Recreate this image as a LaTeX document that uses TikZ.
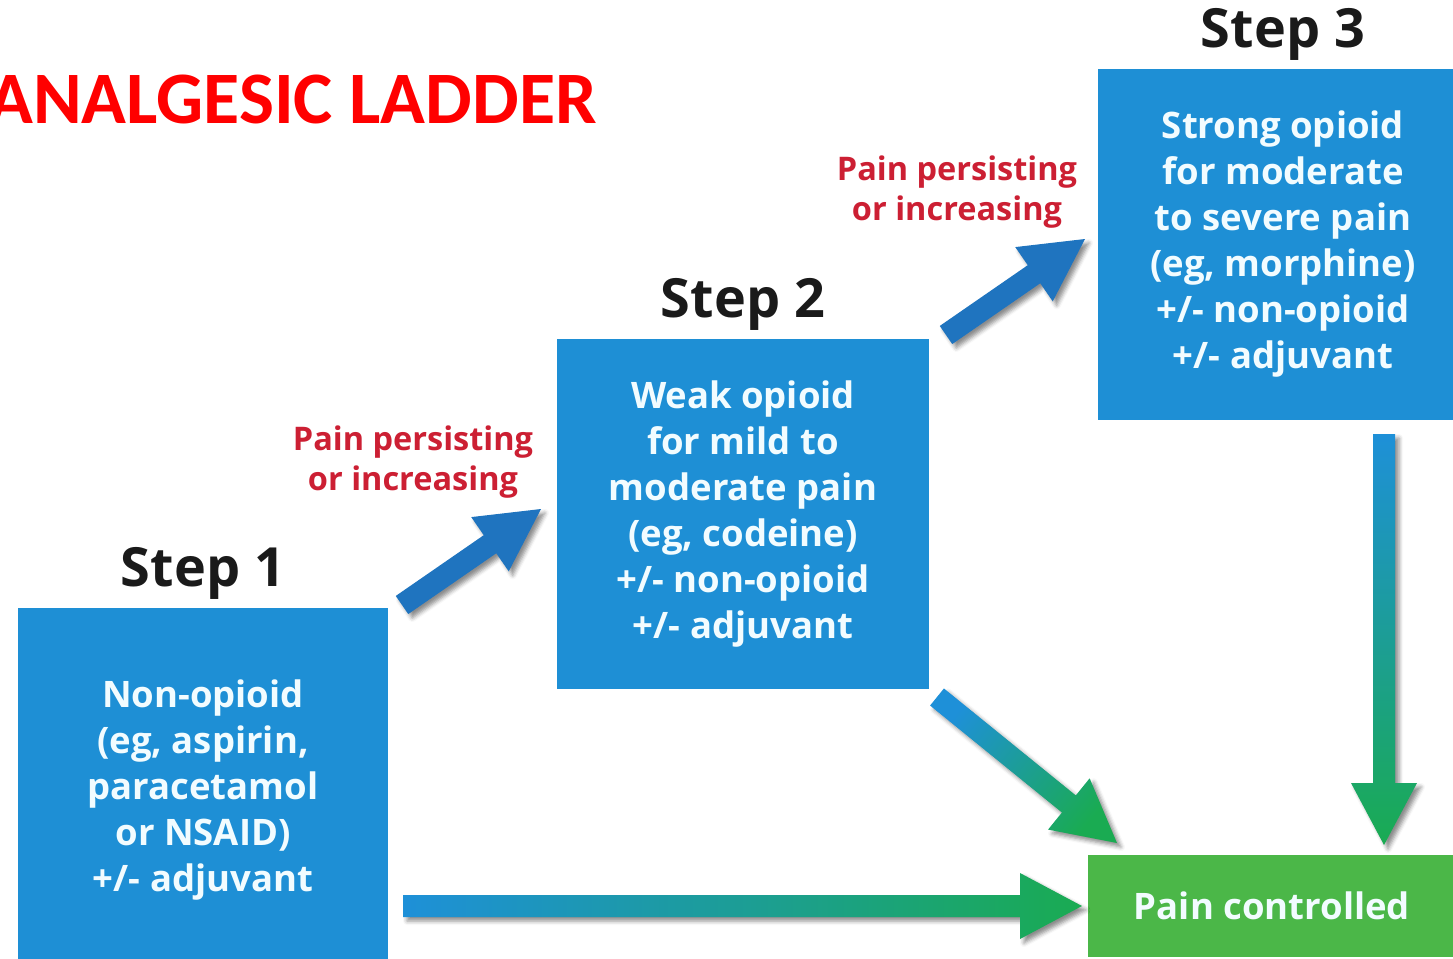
\documentclass[tikz,border=0pt]{standalone}
\usepackage{fontspec}
\setmainfont{Open Sans}
\newfontfamily\titlefont{Carlito}
\usetikzlibrary{calc,shadows.blur}

\definecolor{boxblue}{HTML}{1E8FD5}
\definecolor{arrowblue}{HTML}{1F74BF}
\definecolor{okgreen}{HTML}{4BB748}
\definecolor{gradblue}{HTML}{1E90D8}
\definecolor{gradgreen}{HTML}{1AAB52}
\definecolor{labelred}{HTML}{CC1F33}
\definecolor{steptext}{HTML}{1A1A1A}
\definecolor{boxtext}{HTML}{F2FCFF}

% Block arrow from #2 to #3, drawn as a filled polygon with style #1
\newcommand\blockarrow[3]{%
  \coordinate (hb) at ($(#3)!62pt!(#2)$);
  \path[#1] ($(#2)!11pt!90:(#3)$) -- ($(hb)!11pt!90:(#3)$)
    -- ($(hb)!33pt!90:(#3)$) -- (#3) -- ($(hb)!33pt!-90:(#3)$)
    -- ($(hb)!11pt!-90:(#3)$) -- ($(#2)!11pt!-90:(#3)$) -- cycle;
}

\tikzset{
  stepbox/.style={fill=boxblue, text=boxtext, inner sep=0pt,
    minimum width=370pt, minimum height=350pt, align=center,
    font=\bfseries\fontsize{36.5}{46}\selectfont},
  okbox/.style={fill=okgreen, text=boxtext, inner sep=0pt,
    minimum width=368pt, minimum height=102pt,
    font=\bfseries\fontsize{36.5}{46}\selectfont},
  steplabel/.style={anchor=base, inner sep=0pt, text=steptext,
    font=\bfseries\fontsize{54}{60}\selectfont},
  painlabel/.style={align=center, inner sep=0pt, text=labelred,
    font=\bfseries\fontsize{32.5}{40}\selectfont},
  arrowshadow/.style={blur shadow={shadow xshift=4pt, shadow yshift=-4pt,
    shadow blur radius=4pt, shadow opacity=45}},
  uparrow/.style={fill=arrowblue, arrowshadow},
}

\begin{document}
\begin{tikzpicture}[x=1pt, y=-1pt]
\useasboundingbox (0,0) rectangle (1453,958);
\clip (0,0) rectangle (1453,958);

% title
\node[anchor=base east, inner sep=0pt, text=red,
  font=\titlefont\bfseries\fontsize{74}{74}\selectfont] (title) at (597,123) {ANALGESIC LADDER};

% the three steps (the lower ones run off the bottom edge)
\node[stepbox, minimum height=364pt] (s1) at (203,790) {Non-opioid\\(eg, aspirin,\\paracetamol\\or NSAID)\\+/- adjuvant};
\node[stepbox, minimum width=372pt] (s2) at (743,514) {Weak opioid\\for mild to\\moderate pain\\(eg, codeine)\\+/- non-opioid\\+/- adjuvant};
\node[stepbox, minimum height=351pt] (s3) at (1283,244.5) {Strong opioid\\for moderate\\to severe pain\\(eg, morphine)\\+/- non-opioid\\+/- adjuvant};
\node[okbox] (ok) at (1272,906) {Pain controlled};

\node[steplabel] (l1) at ($(s1.north)+(0,-21)$) {Step 1};
\node[steplabel] (l2) at ($(s2.north)+(0,-21)$) {Step 2};
\node[steplabel] (l3) at ($(s3.north)+(0,-21)$) {Step 3};

\node[painlabel] (p1) at (413,462) {Pain persisting\\or increasing};
\node[painlabel] (p2) at (957,192) {Pain persisting\\or increasing};

% arrow end points
\coordinate (a1s) at (402,605);  \coordinate (a1e) at (541,509);
\coordinate (a2s) at (946,335);  \coordinate (a2e) at (1085,239);
\coordinate (d1s) at (937,697);  \coordinate (d1e) at (1117,843);
\coordinate (v1s) at (1384,434); \coordinate (v1e) at (1384,845);
\coordinate (h1s) at (403,906);  \coordinate (h1e) at (1082,906);

% escalation arrows
\blockarrow{uparrow}{a1s}{a1e}
\blockarrow{uparrow}{a2s}{a2e}

% arrows to pain controlled
\blockarrow{arrowshadow, left color=gradblue, right color=gradgreen}{h1s}{h1e}
\blockarrow{arrowshadow, top color=gradblue, bottom color=gradgreen}{v1s}{v1e}
\blockarrow{arrowshadow, top color=gradblue, bottom color=gradgreen, shading angle=51}{d1s}{d1e}
\end{tikzpicture}
\end{document}
